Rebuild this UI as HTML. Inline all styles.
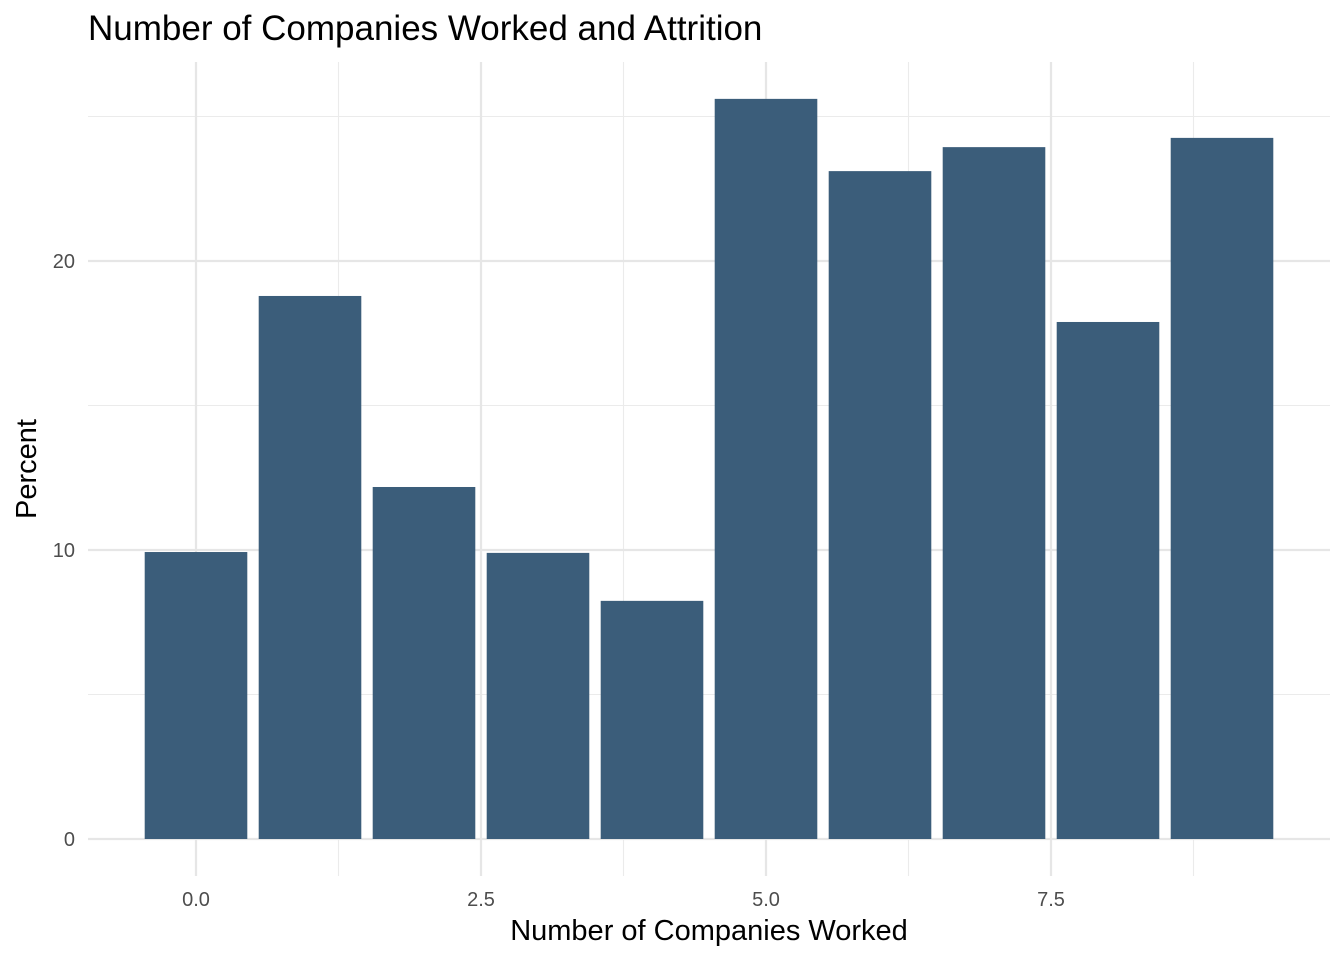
<!DOCTYPE html>
<html><head><meta charset="utf-8"><style>
body{margin:0;background:#fff;font-family:"Liberation Sans",Arial,sans-serif}
svg{display:block}
</style></head><body>
<svg id="chart" width="1344" height="960">
<text x="88" y="40" font-size="35" fill="#000">Number of Companies Worked and Attrition</text>
<g id="grid"></g>
<g id="bars"></g>
<g id="ticks"></g>
<text x="709" y="940" font-size="29" text-anchor="middle" fill="#000">Number of Companies Worked</text>
<text transform="translate(36,469) rotate(-90)" font-size="29" text-anchor="middle" fill="#000">Percent</text>
</svg>
<script>
const categories=[0,1,2,3,4,5,6,7,8,9];
const percents=[9.93,18.79,12.18,9.90,8.24,25.61,23.11,23.94,17.89,24.26];
const xTicks=[0,2.5,5,7.5];
const xTickLabels=["0.0","2.5","5.0","7.5"];
const yTicks=[0,10,20];
const yTickLabels=["0","10","20"];
const NS="http://www.w3.org/2000/svg";
const xs=v=>196+v*114;
const ys=v=>839-v*28.9;
function mk(tag,attrs,parent){const e=document.createElementNS(NS,tag);for(const k in attrs)e.setAttribute(k,attrs[k]);parent.appendChild(e);return e;}
const grid=document.getElementById('grid'),bars=document.getElementById('bars'),ticks=document.getElementById('ticks');
for(const v of [5,15,25]){const l=mk('line',{x1:88,x2:1330,y1:ys(v),y2:ys(v),stroke:'#ebebeb','stroke-width':1.1},grid);

}
for(const v of [1.25,3.75,6.25,8.75]){const l=mk('line',{x1:xs(v),x2:xs(v),y1:62,y2:876,stroke:'#ebebeb','stroke-width':1.1},grid);

}
yTicks.forEach((v,i)=>{const l=mk('line',{x1:88,x2:1330,y1:ys(v),y2:ys(v),stroke:'#e6e6e6','stroke-width':2.2},grid);


const t=mk('text',{x:75,y:ys(v)+7,'font-size':20,'text-anchor':'end',fill:'#4d4d4d'},ticks);t.textContent=yTickLabels[i];

});
xTicks.forEach((v,i)=>{const l=mk('line',{x1:xs(v),x2:xs(v),y1:62,y2:876,stroke:'#e6e6e6','stroke-width':2.2},grid);


const t=mk('text',{x:xs(v),y:906,'font-size':20,'text-anchor':'middle',fill:'#4d4d4d'},ticks);t.textContent=xTickLabels[i];

});
categories.forEach((c,i)=>{const w=0.9*114;const r=mk('rect',{x:xs(c)-w/2,y:ys(percents[i]),width:w,height:ys(0)-ys(percents[i]),fill:'#3b5d7a'},bars);

});
</script>
</body></html>
